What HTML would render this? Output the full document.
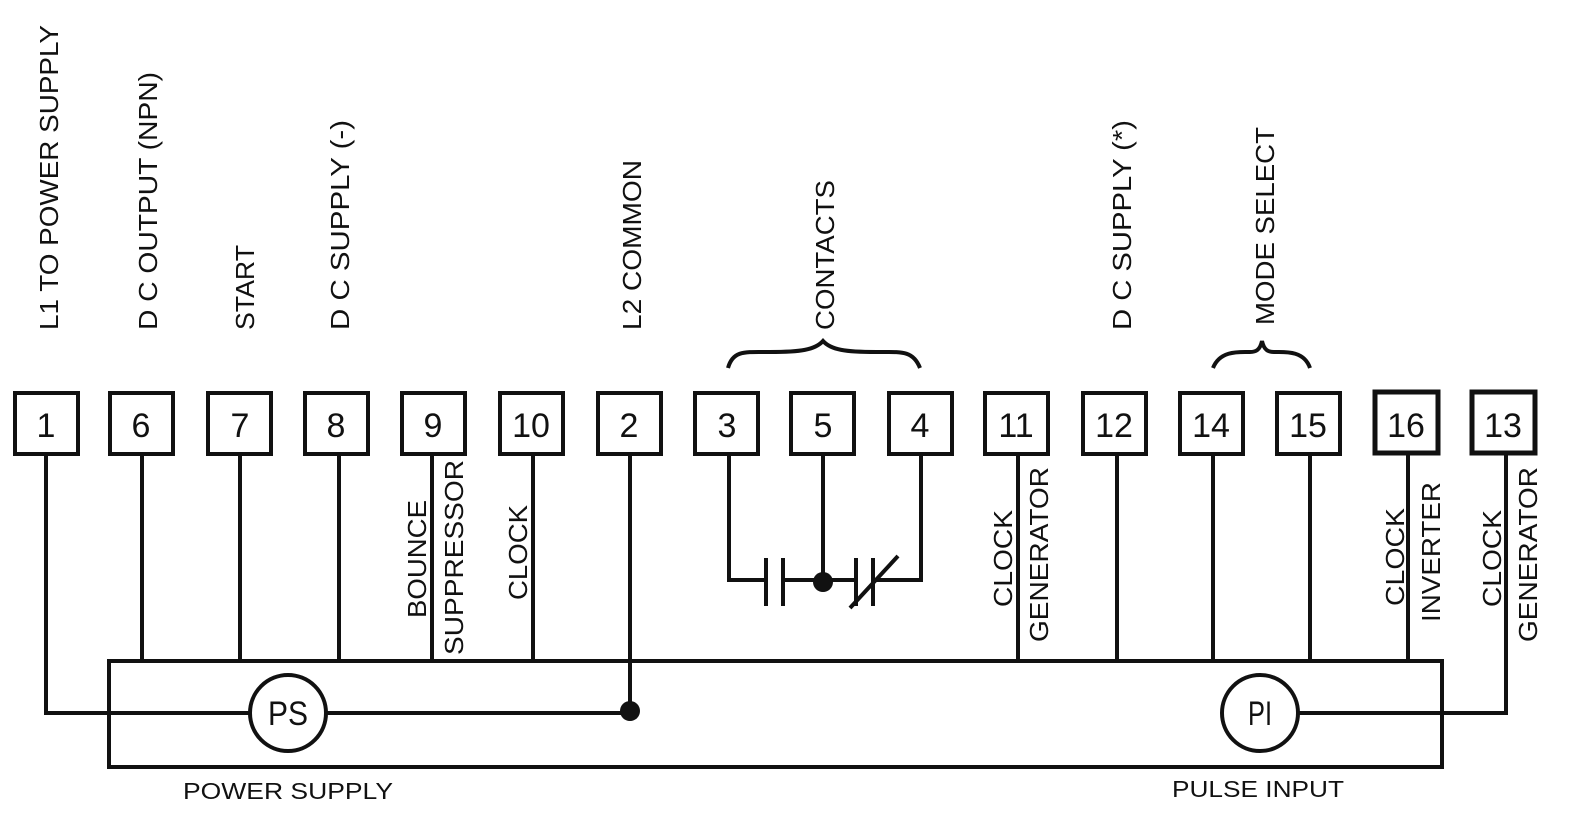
<!DOCTYPE html>
<html><head><meta charset="utf-8"><style>
html,body{margin:0;padding:0;background:#fff;}
svg{display:block;}
text{font-family:"Liberation Sans",Arial,sans-serif;fill:#111;}
</style></head><body>
<svg width="1574" height="836" viewBox="0 0 1574 836" xmlns="http://www.w3.org/2000/svg">
<g fill="none" stroke="#111" stroke-width="4">
<rect x="15" y="393" width="63" height="61"/>
<rect x="110" y="393" width="63" height="61"/>
<rect x="208" y="393" width="63" height="61"/>
<rect x="305" y="393" width="63" height="61"/>
<rect x="402" y="393" width="63" height="61"/>
<rect x="500" y="393" width="63" height="61"/>
<rect x="598" y="393" width="63" height="61"/>
<rect x="695" y="393" width="63" height="61"/>
<rect x="791" y="393" width="63" height="61"/>
<rect x="889" y="393" width="63" height="61"/>
<rect x="985" y="393" width="63" height="61"/>
<rect x="1083" y="393" width="63" height="61"/>
<rect x="1180" y="393" width="63" height="61"/>
<rect x="1277" y="393" width="63" height="61"/>
<rect x="1375" y="392" width="63" height="61" stroke-width="5"/>
<rect x="1472" y="392" width="63" height="61" stroke-width="5"/>
<rect x="109" y="661" width="1333" height="106"/>
<path d="M142 454V661M240 454V661M339 454V661M432 454V661M533 454V661M1018 454V661M1117 454V661M1213 454V661M1310 454V661M1408 453V661"/>
<path d="M46 454V713H250M326 713H630M630 454V713"/>
<circle cx="288" cy="713" r="38"/>
<circle cx="1260" cy="713" r="38"/>
<path d="M1298 713H1506V453"/>
<path d="M729 454V580H766M783 580H856M873 580H921V454M823 454V580"/>
<path d="M766 558V606M783 558V606M856 558V606M873 558V606M850 608L898 556"/>
<path d="M728 368C733 350 745 352 770 352C800 352 815 350 823 341C831 350 846 352 876 352C901 352 913 350 920 368"/>
<path d="M1213 368C1220 350 1240 352 1250 352C1256 352 1260 350 1262 341C1264 350 1268 352 1274 352C1284 352 1304 350 1310 368"/>
</g>
<circle cx="630" cy="711" r="10" fill="#111"/>
<circle cx="823" cy="582" r="10" fill="#111"/>
<g font-size="34" text-anchor="middle">
<text x="46" y="437">1</text><text x="141" y="437">6</text><text x="240" y="437">7</text>
<text x="336" y="437">8</text><text x="433" y="437">9</text><text x="531" y="437">10</text>
<text x="629" y="437">2</text><text x="727" y="437">3</text><text x="823" y="437">5</text>
<text x="920" y="437">4</text><text x="1016" y="437">11</text><text x="1114" y="437">12</text>
<text x="1211" y="437">14</text><text x="1308" y="437">15</text><text x="1406" y="437">16</text>
<text x="1503" y="437">13</text>
</g>
<g font-size="26">
<text transform="translate(58,330) rotate(-90)" textLength="305" lengthAdjust="spacingAndGlyphs">L1 TO POWER SUPPLY</text>
<text transform="translate(157,330) rotate(-90)" textLength="258" lengthAdjust="spacingAndGlyphs">D C OUTPUT (NPN)</text>
<text transform="translate(254,330) rotate(-90)" textLength="85" lengthAdjust="spacingAndGlyphs">START</text>
<text transform="translate(349,330) rotate(-90)" textLength="210" lengthAdjust="spacingAndGlyphs">D C SUPPLY (-)</text>
<text transform="translate(641,330) rotate(-90)" textLength="170" lengthAdjust="spacingAndGlyphs">L2 COMMON</text>
<text transform="translate(834,330) rotate(-90)" textLength="150" lengthAdjust="spacingAndGlyphs">CONTACTS</text>
<text transform="translate(1131,330) rotate(-90)" textLength="210" lengthAdjust="spacingAndGlyphs">D C SUPPLY (*)</text>
<text transform="translate(1274,325) rotate(-90)" textLength="198" lengthAdjust="spacingAndGlyphs">MODE SELECT</text>
<text transform="translate(426,618) rotate(-90)" textLength="118" lengthAdjust="spacingAndGlyphs">BOUNCE</text>
<text transform="translate(463,655) rotate(-90)" textLength="195" lengthAdjust="spacingAndGlyphs">SUPPRESSOR</text>
<text transform="translate(527,600) rotate(-90)" textLength="95" lengthAdjust="spacingAndGlyphs">CLOCK</text>
<text transform="translate(1012,607) rotate(-90)" textLength="97" lengthAdjust="spacingAndGlyphs">CLOCK</text>
<text transform="translate(1048,642) rotate(-90)" textLength="175" lengthAdjust="spacingAndGlyphs">GENERATOR</text>
<text transform="translate(1404,606) rotate(-90)" textLength="98" lengthAdjust="spacingAndGlyphs">CLOCK</text>
<text transform="translate(1440,622) rotate(-90)" textLength="140" lengthAdjust="spacingAndGlyphs">INVERTER</text>
<text transform="translate(1501,607) rotate(-90)" textLength="97" lengthAdjust="spacingAndGlyphs">CLOCK</text>
<text transform="translate(1537,642) rotate(-90)" textLength="175" lengthAdjust="spacingAndGlyphs">GENERATOR</text>
</g>
<g font-size="34" text-anchor="middle">
<text x="288" y="725" textLength="40" lengthAdjust="spacingAndGlyphs">PS</text>
<text x="1260" y="725" textLength="24" lengthAdjust="spacingAndGlyphs">PI</text>
</g>
<g font-size="23" text-anchor="middle">
<text x="288" y="799" textLength="210" lengthAdjust="spacingAndGlyphs">POWER SUPPLY</text>
<text x="1258" y="797" textLength="172" lengthAdjust="spacingAndGlyphs">PULSE INPUT</text>
</g>
</svg>
</body></html>
